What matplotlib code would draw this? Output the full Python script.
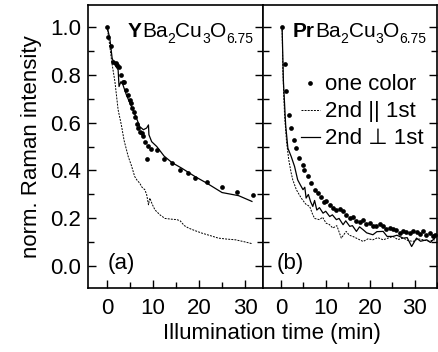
import matplotlib
matplotlib.use("Agg")
import matplotlib.pyplot as plt
from matplotlib.ticker import MultipleLocator
from matplotlib.lines import Line2D

plt.rcParams['font.family'] = ['Liberation Sans', 'DejaVu Sans']

# ---- data: panel (a) YBa2Cu3O6.75 ----
a_dot_x = [0, 0.2, 0.8, 1.3, 1.9, 2.2, 2.6, 3.1, 3.4, 3.6, 4.2, 4.6, 5.0, 5.2, 5.5, 5.8,
           6.1, 6.4, 6.8, 7.1, 7.5, 7.9, 8.2, 8.7, 9.0, 9.5, 10.8, 12.4, 14.1, 15.9, 17.5,
           19.1, 21.7, 25.0, 28.3, 31.7]
a_dot_y = [1.0, 0.956, 0.917, 0.854, 0.849, 0.84, 0.833, 0.80, 0.77, 0.767, 0.736, 0.715,
           0.695, 0.68, 0.66, 0.642, 0.625, 0.595, 0.577, 0.562, 0.556, 0.542, 0.52, 0.447,
           0.503, 0.49, 0.486, 0.449, 0.431, 0.403, 0.389, 0.368, 0.35, 0.331, 0.312, 0.299]
a_perp_x = [0, 0.6, 1.1, 1.7, 2.4, 2.6, 3.0, 3.4, 4.2, 5.3, 6.4, 7.1, 7.9, 8.6, 9.0, 9.1,
            9.7, 10.8, 12.4, 14.1, 16.2, 19.1, 21.7, 25.0, 28.6, 31.5]
a_perp_y = [1.0, 0.95, 0.868, 0.84, 0.82, 0.75, 0.77, 0.76, 0.715, 0.667, 0.618, 0.583,
            0.57, 0.577, 0.59, 0.549, 0.52, 0.5, 0.46, 0.433, 0.41, 0.375, 0.347, 0.308,
            0.295, 0.271]
a_par_x = [0, 0.3, 0.6, 1.0, 1.7, 2.4, 3.1, 3.7, 4.6, 5.3, 6.0, 6.5, 7.1, 7.6, 8.2, 8.6,
           9.0, 9.3, 9.8, 10.4, 11.5, 12.6, 14.0, 15.2, 15.9, 16.8, 17.7, 19.0, 20.6, 22.5,
           24.2, 26.0, 27.9, 29.8, 31.5]
a_par_y = [1.0, 0.96, 0.917, 0.854, 0.771, 0.653, 0.59, 0.525, 0.458, 0.42, 0.375, 0.36,
           0.347, 0.33, 0.32, 0.30, 0.257, 0.285, 0.26, 0.236, 0.215, 0.2, 0.197, 0.195,
           0.19, 0.17, 0.16, 0.15, 0.139, 0.128, 0.118, 0.114, 0.111, 0.103, 0.095]

# ---- data: panel (b) PrBa2Cu3O6.75 ----
b_dot_x = [0.2, 0.75, 1.1, 1.7, 2.25, 2.8, 3.4, 4.1, 4.9, 5.2, 6.0, 6.8, 7.5, 8.2, 9.0,
           9.6, 10.1, 10.9, 11.6, 12.4, 13.1, 13.9, 14.6, 15.4, 16.1, 16.9, 17.6, 18.4,
           19.1, 19.9, 20.6, 21.4, 22.1, 22.9, 23.6, 24.4, 25.1, 25.9, 26.6, 27.4, 28.1,
           28.9, 29.6, 30.4, 31.1, 31.9, 32.6, 33.4, 34.1, 34.6]
b_dot_y = [1.0, 0.843, 0.732, 0.632, 0.577, 0.528, 0.495, 0.452, 0.424, 0.40, 0.375,
           0.347, 0.32, 0.306, 0.29, 0.27, 0.271, 0.257, 0.245, 0.236, 0.24, 0.229, 0.215,
           0.2, 0.205, 0.19, 0.185, 0.195, 0.178, 0.18, 0.17, 0.167, 0.175, 0.17, 0.155,
           0.16, 0.158, 0.153, 0.14, 0.146, 0.142, 0.139, 0.148, 0.142, 0.135, 0.146, 0.13,
           0.139, 0.125, 0.13]
b_perp_x = [0.2, 0.5, 1.0, 1.5, 2.25, 3.0, 3.7, 4.3, 4.9, 5.3, 5.6, 6.1, 6.6, 7.1, 7.5,
            8.0, 8.6, 9.4, 10.0, 10.9, 11.5, 12.4, 13.0, 13.9, 14.5, 15.4, 16.0, 16.9,
            17.6, 18.4, 19.2, 20.6, 21.5, 22.9, 23.8, 25.1, 26.0, 27.4, 28.3, 29.3, 30.4,
            31.3, 32.7, 33.5, 34.5]
b_perp_y = [1.0, 0.771, 0.59, 0.493, 0.458, 0.417, 0.361, 0.34, 0.32, 0.33, 0.285, 0.30,
            0.27, 0.25, 0.275, 0.235, 0.245, 0.222, 0.23, 0.208, 0.215, 0.195, 0.20, 0.174,
            0.19, 0.167, 0.17, 0.146, 0.165, 0.153, 0.14, 0.132, 0.145, 0.146, 0.125,
            0.125, 0.13, 0.118, 0.12, 0.083, 0.118, 0.105, 0.111, 0.10, 0.118]
b_par_x = [0.2, 0.4, 0.75, 1.2, 1.7, 2.25, 2.6, 3.4, 4.5, 5.5, 6.4, 7.0, 7.5, 8.6, 9.3,
           10.1, 10.8, 11.6, 12.5, 13.5, 14.6, 15.3, 16.1, 17.2, 18.4, 19.5, 20.6, 21.7,
           22.9, 24.0, 25.1, 26.2, 27.4, 28.5, 29.6, 30.8, 31.9, 33.1, 34.5]
b_par_y = [1.0, 0.80, 0.632, 0.52, 0.444, 0.389, 0.361, 0.32, 0.285, 0.26, 0.25, 0.22,
           0.20, 0.195, 0.205, 0.18, 0.175, 0.16, 0.17, 0.118, 0.146, 0.13, 0.125, 0.115,
           0.104, 0.115, 0.111, 0.12, 0.111, 0.118, 0.125, 0.112, 0.118, 0.108, 0.104,
           0.115, 0.111, 0.105, 0.111]

x_ticks = [0, 10, 20, 30]
y_ticks = [0.0, 0.2, 0.4, 0.6, 0.8, 1.0]
legend_labels = ['one color', '2nd || 1st', '2nd \u22a5 1st']
title_a = [('Y', 'bold'), ('Ba', 'main'), ('2', 'sub'), ('Cu', 'main'), ('3', 'sub'),
           ('O', 'main'), ('6.75', 'sub')]
title_b = [('Pr', 'bold'), ('Ba', 'main'), ('2', 'sub'), ('Cu', 'main'), ('3', 'sub'),
           ('O', 'main'), ('6.75', 'sub')]

W, H = 438, 352
fig = plt.figure(figsize=(W / 100, H / 100), dpi=100)
left, mid, right = 88 / W, 262.5 / W, 437 / W
bottom, top = 1 - 288 / H, 1 - 5 / H
axa = fig.add_axes([left, bottom, mid - left, top - bottom])
axb = fig.add_axes([mid, bottom, right - mid, top - bottom])

FS = 16
for ax, xlim in ((axa, (-4.15, 33.8)), (axb, (-4.2, 35.0))):
    ax.set_xlim(*xlim)
    ax.set_ylim(-0.09, 1.09)
    ax.set_xticks(x_ticks)
    ax.xaxis.set_minor_locator(MultipleLocator(5))
    ax.set_yticks(y_ticks)
    ax.yaxis.set_minor_locator(MultipleLocator(0.1))
    ax.tick_params(which='both', direction='in', top=False, right=True, labelsize=FS,
                   width=1.0)
    ax.tick_params(which='major', length=6)
    ax.tick_params(which='minor', length=4)
    ax.tick_params(axis='x', which='major', pad=7)
    ax.tick_params(axis='y', which='major', pad=5)
    for s in ax.spines.values():
        s.set_linewidth(1.2)

axa.set_yticklabels(['0.0', '0.2', '0.4', '0.6', '0.8', '1.0'])
axb.tick_params(labelleft=False)

ms = 3.4
axa.plot(a_par_x, a_par_y, color='black', lw=0.7, ls=(0, (2, 1.2)))
axa.plot(a_perp_x, a_perp_y, color='black', lw=0.9)
axa.plot(a_dot_x, a_dot_y, 'o', color='black', ms=ms, mec='none')

axb.plot(b_par_x, b_par_y, color='black', lw=0.7, ls=(0, (2, 1.2)))
axb.plot(b_perp_x, b_perp_y, color='black', lw=0.9)
axb.plot(b_dot_x, b_dot_y, 'o', color='black', ms=ms, mec='none')

renderer = fig.canvas.get_renderer()


def chem_label(x_px, base_px, parts, size=15, sub_size=10, drop=6):
    x = x_px
    for txt, kind in parts:
        if kind == 'sub':
            t = fig.text(x / W, 1 - (base_px + drop) / H, txt, fontsize=sub_size,
                         ha='left', va='baseline')
        else:
            t = fig.text(x / W, 1 - base_px / H, txt, fontsize=size, ha='left',
                         va='baseline', fontweight='bold' if kind == 'bold' else 'normal')
        x += t.get_window_extent(renderer).width


chem_label(128, 37, title_a)
chem_label(293, 37, title_b)

axa.text(0.115, 0.088, '(a)', transform=axa.transAxes, fontsize=FS, va='center', ha='left')
axb.text(0.08, 0.088, '(b)', transform=axb.transAxes, fontsize=FS, va='center', ha='left')

handles = [Line2D([], [], marker='o', ls='none', color='black', ms=ms, mec='none'),
           Line2D([], [], color='black', lw=0.7, ls=(0, (2, 1.2))),
           Line2D([], [], color='black', lw=0.9)]
axb.legend(handles, legend_labels, loc='upper left', bbox_to_anchor=(0.22, 0.755),
           frameon=False, fontsize=FS, handlelength=0.85, handletextpad=0.25,
           labelspacing=0.27, borderpad=0, borderaxespad=0)

axa.set_ylabel('norm. Raman intensity', fontsize=FS, labelpad=6)
fig.text(271.5 / W, 1 - 339 / H, 'Illumination time (min)', fontsize=FS,
         ha='center', va='baseline')

fig.savefig('out.png', dpi=100)
